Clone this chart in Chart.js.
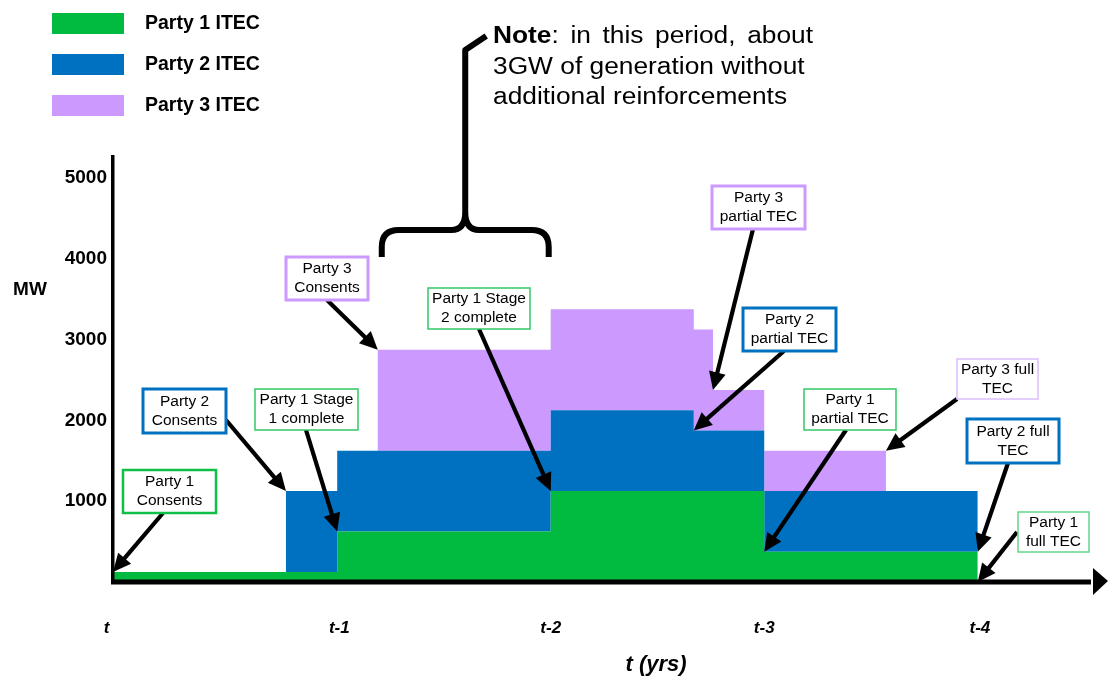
<!DOCTYPE html>
<html>
<head>
<meta charset="utf-8">
<title>ITEC stages</title>
<script src="https://cdn.jsdelivr.net/npm/chart.js@4.4.1/dist/chart.umd.min.js"></script>
<style>
  html, body { margin: 0; padding: 0; background: #fff; }
  #wrap { position: relative; width: 1108px; height: 679px; }
</style>
</head>
<body>
<div id="wrap"><canvas id="itecChart"></canvas></div>
<script>
(() => {
  "use strict";

  // Step breakpoints in years from t; each value holds until the next point
  const STEP_X = [-0.05, 0.76, 1, 1.19, 2, 2.67, 2.76, 3, 3.57, 4];
  const PARTY1 = [125, 125, 625, 625, 1125, 1125, 1125, 375, 375, 0];
  const PARTY2 = [0, 1000, 1000, 1000, 1000, 750, 750, 750, 750, 0];
  const PARTY3 = [0, 0, 0, 1250, 1250, 1250, 500, 500, 0, 0];
  const SERIES_NAMES = ["Party 1 ITEC", "Party 2 ITEC", "Party 3 ITEC"];
  const SERIES_COLORS = ["#00BB3F", "#0070C0", "#CC99FF"];

  const X_TICKS = [-0.08, 1.01, 2, 3, 4.01];
  const X_TICK_LABELS = ["t", "t-1", "t-2", "t-3", "t-4"];
  const Y_TICKS = [1000, 2000, 3000, 4000, 5000];

  const CALLOUT_TEXT = [
    ["Party 1", "Consents"],
    ["Party 2", "Consents"],
    ["Party 1 Stage", "1 complete"],
    ["Party 3", "Consents"],
    ["Party 1 Stage", "2 complete"],
    ["Party 3", "partial TEC"],
    ["Party 2", "partial TEC"],
    ["Party 1", "partial TEC"],
    ["Party 3 full", "TEC"],
    ["Party 2 full", "TEC"],
    ["Party 1", "full TEC"],
  ];
  // arrow tip: [STEP_X index, value index, top of layer (-1 = axis)]
  const CALLOUT_TARGET = [
    [0, 0, 0], [1, 1, 1], [2, 2, 0], [3, 3, 2], [4, 4, 0], [6, 6, 2],
    [5, 5, 1], [7, 7, 0], [8, 7, 2], [9, 8, 0], [9, 9, -1],
  ];

  const NOTE_LINES = ["in this period, about", "3GW of generation without", "additional reinforcements"];

  // ── Layout of the callout boxes (px) ─────────────────────────────────────
  const CALLOUT_BOX = [
    { x: 123, y: 470, w: 93, h: 43, tail: [163, 513], lw: 2.5, color: "#10BF48" },
    { x: 143, y: 389, w: 83, h: 44, tail: [226, 420], lw: 3, color: "#0070C0" },
    { x: 255, y: 389, w: 103, h: 41, tail: [306, 430], lw: 1.5, color: "#33C865" },
    { x: 286, y: 257, w: 82, h: 43, tail: [327, 300], lw: 3, color: "#CC99FF" },
    { x: 428, y: 288, w: 102, h: 41, tail: [479, 329], lw: 1.5, color: "#33C865" },
    { x: 712, y: 186, w: 93, h: 43, tail: [753, 229], lw: 3, color: "#CC99FF" },
    { x: 743, y: 308, w: 93, h: 43, tail: [784, 351], lw: 3, color: "#0070C0" },
    { x: 804, y: 389, w: 92, h: 41, tail: [846, 430], lw: 1.5, color: "#33C865" },
    { x: 957, y: 359, w: 81, h: 40, tail: [957, 399], lw: 1.5, color: "#DDBFFF" },
    { x: 967, y: 419, w: 92, h: 44, tail: [1008, 463], lw: 3, color: "#0070C0" },
    { x: 1018, y: 512, w: 71, h: 40, tail: [1017, 532], lw: 1.5, color: "#66D48C" },
  ];

  const FONT = "'Liberation Sans', Arial, sans-serif";
  const SERIES = [PARTY1, PARTY2, PARTY3];

  function stackTop(layer, i) {
    let s = 0;
    for (let k = 0; k <= layer; k++) s += SERIES[k][i];
    return s;
  }

  function arrow(ctx, x1, y1, x2, y2) {
    const a = Math.atan2(y2 - y1, x2 - x1);
    const hl = 18, hw = 8.5;
    ctx.beginPath();
    ctx.moveTo(x1, y1);
    ctx.lineTo(x2 - Math.cos(a) * (hl - 2), y2 - Math.sin(a) * (hl - 2));
    ctx.lineWidth = 4.2;
    ctx.strokeStyle = "#000";
    ctx.stroke();
    ctx.beginPath();
    ctx.moveTo(x2, y2);
    ctx.lineTo(x2 - Math.cos(a) * hl - Math.sin(a) * hw, y2 - Math.sin(a) * hl + Math.cos(a) * hw);
    ctx.lineTo(x2 - Math.cos(a) * hl + Math.sin(a) * hw, y2 - Math.sin(a) * hl - Math.cos(a) * hw);
    ctx.closePath();
    ctx.fillStyle = "#000";
    ctx.fill();
  }

  // ── Axes, legend, callouts and the note, drawn on top of the areas ───────
  const decorations = {
    id: "decorations",
    afterDatasetsDraw(chart) {
      const { ctx, chartArea: ca, scales } = chart;
      const xs = (v) => scales.x.getPixelForValue(v);
      const ys = (v) => scales.y.getPixelForValue(v);
      ctx.save();

      // axes
      ctx.fillStyle = "#000";
      ctx.fillRect(ca.left - 2, ca.top, 3.5, ys(0) - ca.top + 2);
      ctx.fillRect(ca.left - 2, ys(0) - 2.5, ca.right - 15 - ca.left, 5);
      ctx.beginPath();
      ctx.moveTo(ca.right, ys(0) - 1);
      ctx.lineTo(ca.right - 15, ys(0) - 14);
      ctx.lineTo(ca.right - 15, ys(0) + 13);
      ctx.closePath();
      ctx.fill();

      // axis titles
      ctx.textAlign = "center";
      ctx.textBaseline = "middle";
      ctx.font = `bold 19px ${FONT}`;
      ctx.fillText("MW", 30, 290);
      ctx.font = `italic bold 22px ${FONT}`;
      ctx.fillText("t (yrs)", 656, 665);

      // legend
      ctx.textAlign = "left";
      ctx.font = `bold 19.5px ${FONT}`;
      SERIES_NAMES.forEach((name, i) => {
        ctx.fillStyle = SERIES_COLORS[i];
        ctx.fillRect(52, 13 + i * 41, 72, 21);
        ctx.fillStyle = "#000";
        ctx.fillText(name, 145, 24 + i * 41);
      });

      // callouts
      CALLOUT_TEXT.forEach((lines, i) => {
        const box = CALLOUT_BOX[i];
        const [xi, vi, layer] = CALLOUT_TARGET[i];
        const tx = xs(STEP_X[xi]);
        const ty = ys(layer < 0 ? 0 : stackTop(layer, vi));
        arrow(ctx, box.tail[0], box.tail[1], tx, ty);
        ctx.fillStyle = "#fff";
        ctx.fillRect(box.x, box.y, box.w, box.h);
        ctx.strokeStyle = box.color;
        ctx.lineWidth = box.lw;
        ctx.strokeRect(box.x, box.y, box.w, box.h);
        ctx.fillStyle = "#000";
        ctx.textAlign = "center";
        ctx.font = `15.5px ${FONT}`;
        const cx = box.x + box.w / 2, cy = box.y + box.h / 2;
        ctx.fillText(lines[0], cx, cy - 9.5);
        ctx.fillText(lines[1], cx, cy + 9.5);
      });

      // brace over the period with ~3GW
      const L = xs(STEP_X[3]) + 4, R = xs(STEP_X[4]) - 2, M = (L + R) / 2;
      ctx.strokeStyle = "#000";
      ctx.lineWidth = 6;
      ctx.lineJoin = "round";
      ctx.beginPath();
      ctx.moveTo(L, 257);
      ctx.lineTo(L, 247);
      ctx.quadraticCurveTo(L, 230, L + 17, 230);
      ctx.lineTo(M - 14, 230);
      ctx.quadraticCurveTo(M, 230, M, 212);
      ctx.moveTo(R, 257);
      ctx.lineTo(R, 247);
      ctx.quadraticCurveTo(R, 230, R - 17, 230);
      ctx.lineTo(M + 14, 230);
      ctx.quadraticCurveTo(M, 230, M, 212);
      ctx.lineTo(M, 50);
      ctx.lineTo(M + 21, 36);
      ctx.stroke();

      // note text, first line justified
      const sx = 1.12, nx = 493, width = 320 / sx;
      ctx.save();
      ctx.translate(nx, 0);
      ctx.scale(sx, 1);
      ctx.textAlign = "left";
      ctx.textBaseline = "alphabetic";
      ctx.font = `bold 23.5px ${FONT}`;
      const head = "Note";
      const headW = ctx.measureText(head).width;
      ctx.fillText(head, 0, 43);
      ctx.font = `23.5px ${FONT}`;
      const words = [":"].concat(NOTE_LINES[0].split(" "));
      const wW = words.map((w) => ctx.measureText(w).width);
      const total = headW + wW.reduce((a, b) => a + b, 0);
      const gap = (width - total) / (words.length - 1);
      let px = headW;
      words.forEach((w, k) => {
        ctx.fillText(w, px, 43);
        px += wW[k] + gap;
      });
      ctx.fillText(NOTE_LINES[1], 0, 73.5);
      ctx.fillText(NOTE_LINES[2], 0, 104);
      ctx.restore();

      ctx.restore();
    },
  };

  function buildChart() {
    const ctx = document.getElementById("itecChart").getContext("2d");
    Chart.defaults.font.family = FONT;
    Chart.defaults.color = "#000";

    new Chart(ctx, {
      type: "line",
      data: {
        datasets: SERIES.map((vals, i) => ({
          label: SERIES_NAMES[i],
          data: vals.map((y, k) => ({ x: STEP_X[k], y })),
          stepped: true,
          fill: i === 0 ? "origin" : "-1",
          backgroundColor: SERIES_COLORS[i],
          borderColor: "transparent",
          borderWidth: 0,
          pointRadius: 0,
        })),
      },
      options: {
        responsive: false,
        animation: false,
        events: [],
        layout: { padding: { top: 155, left: 0, right: 0, bottom: 0 } },
        plugins: {
          legend: { display: false },
          tooltip: { enabled: false },
        },
        scales: {
          x: {
            type: "linear",
            min: -0.05,
            max: 4.61,
            grid: { display: false, drawTicks: false },
            border: { display: false },
            afterBuildTicks: (s) => { s.ticks = X_TICKS.map((v) => ({ value: v })); },
            afterFit: (s) => { s.height = 97; },
            ticks: {
              autoSkip: false,
              maxRotation: 0,
              padding: 36,
              font: { size: 17, weight: "bold", style: "italic" },
              callback: (v) => X_TICK_LABELS[X_TICKS.indexOf(v)],
            },
          },
          y: {
            stacked: true,
            min: 0,
            max: 5285,
            grid: { display: false, drawTicks: false },
            border: { display: false },
            afterBuildTicks: (s) => { s.ticks = Y_TICKS.map((v) => ({ value: v })); },
            afterFit: (s) => { s.width = 113; },
            ticks: {
              padding: 6,
              font: { size: 19, weight: "bold" },
              callback: (v) => String(v),
            },
          },
        },
      },
      plugins: [decorations],
    });
  }

  const canvas = document.getElementById("itecChart");
  canvas.width = 1108;
  canvas.height = 679;
  buildChart();
})();
</script>
</body>
</html>
